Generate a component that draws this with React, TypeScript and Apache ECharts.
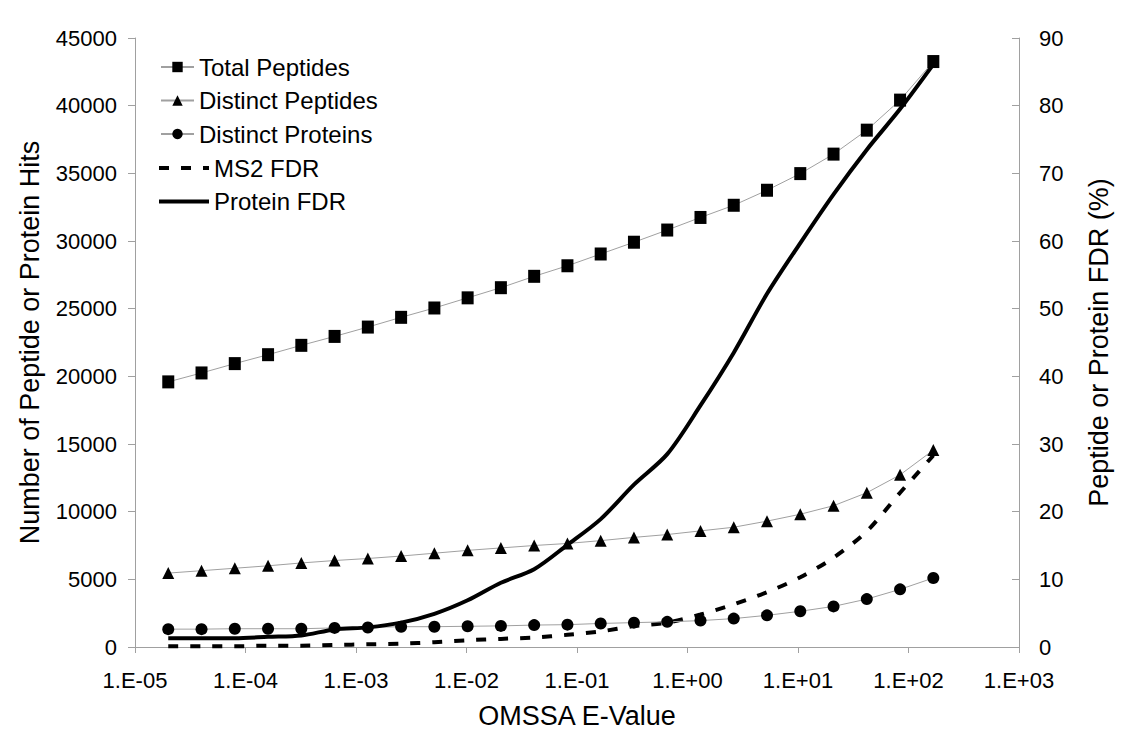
import React, { useEffect, useRef } from "react";
import * as echarts from "echarts";

const eValues = [
  2e-5, 4e-5, 8e-5, 1.6e-4, 3.2e-4, 6.4e-4, 1.28e-3, 2.56e-3, 5.12e-3, 1.024e-2,
  2.048e-2, 4.096e-2, 8.192e-2, 0.16384, 0.32768, 0.65536, 1.31072, 2.62144,
  5.24288, 10.48576, 20.97152, 41.94304, 83.88608, 167.77216,
];
const totalPeptides = [
  19590, 20250, 20940, 21600, 22290, 22950, 23640, 24360, 25050, 25800, 26550,
  27390, 28170, 29040, 29910, 30810, 31740, 32640, 33750, 34980, 36420, 38190,
  40410, 43260,
];
const distinctPeptides = [
  5460, 5640, 5820, 6000, 6210, 6390, 6540, 6720, 6930, 7140, 7320, 7500, 7650,
  7860, 8100, 8310, 8580, 8850, 9300, 9810, 10440, 11400, 12720, 14550,
];
const distinctProteins = [
  1320, 1320, 1350, 1350, 1350, 1410, 1440, 1500, 1500, 1530, 1560, 1620, 1650,
  1740, 1800, 1860, 1950, 2100, 2340, 2640, 3000, 3540, 4260, 5100,
];
const ms2FDR = [
  0.1, 0.1, 0.1, 0.2, 0.2, 0.3, 0.4, 0.5, 0.7, 1.0, 1.2, 1.4, 1.8, 2.3, 3.1,
  3.6, 4.8, 6.3, 8.1, 10.3, 13.2, 17.1, 22.8, 28.3,
];
const proteinFDR = [
  1.3, 1.3, 1.3, 1.5, 1.7, 2.6, 2.9, 3.6, 4.9, 6.9, 9.5, 11.5, 15.1, 18.9, 24.0,
  28.5, 35.7, 43.5, 52.2, 59.7, 66.9, 73.5, 79.5, 86.1,
];

const FONT = "Liberation Sans, Arial, sans-serif";
const AXIS_GRAY = "#a0a0a0";

const pair = (ys: number[]) => eValues.map((x, i) => [x, ys[i]]);

const fmtE = (v: number) => {
  const e = Math.round(Math.log10(v));
  return "1.E" + (e < 0 ? "-" : "+") + String(Math.abs(e)).padStart(2, "0");
};

export default function App() {
  const ref = useRef<HTMLDivElement>(null);
  useEffect(() => {
    if (!ref.current) return;
    const chart = echarts.init(ref.current, undefined, { renderer: "svg" });
    const markerSeries = (name: string, data: number[], symbol: string, size: any) => ({
      name,
      type: "line",
      yAxisIndex: 0,
      data: pair(data),
      symbol,
      symbolSize: size,
      showSymbol: true,
      lineStyle: { color: AXIS_GRAY, width: 1 },
      itemStyle: { color: "#000" },
      z: 3,
    });
    chart.setOption({
      animation: false,
      backgroundColor: "#fff",
      textStyle: { fontFamily: FONT },
      grid: { left: 120, right: 93, top: 30, bottom: 80 },
      legend: [
        {
          orient: "vertical",
          left: 147,
          top: 42,
          itemWidth: 33,
          itemHeight: 13,
          itemGap: 9.5,
          textStyle: { fontSize: 24, color: "#000", fontFamily: FONT },
          data: ["Total Peptides", "Distinct Peptides", "Distinct Proteins"],
        },
        {
          orient: "vertical",
          left: 144,
          top: 143,
          itemWidth: 50,
          itemHeight: 13,
          itemGap: 9.5,
          textStyle: { fontSize: 24, color: "#000", fontFamily: FONT },
          data: [
            { name: "MS2 FDR", itemStyle: { opacity: 0 }, lineStyle: { width: 4 } },
            { name: "Protein FDR", itemStyle: { opacity: 0 }, lineStyle: { width: 4 } },
          ],
        },
      ],
      xAxis: {
        type: "log",
        logBase: 10,
        min: 1e-5,
        max: 1e3,
        splitNumber: 8,
        name: "OMSSA E-Value",
        nameLocation: "middle",
        nameGap: 55,
        nameTextStyle: { fontSize: 27, color: "#000", fontFamily: FONT },
        axisLine: { lineStyle: { color: AXIS_GRAY, width: 1 } },
        axisTick: { show: true, length: 6, lineStyle: { color: AXIS_GRAY } },
        axisLabel: { fontSize: 22, color: "#000", margin: 22, formatter: fmtE, fontFamily: FONT },
        splitLine: { show: false },
        minorTick: { show: false },
      },
      yAxis: [
        {
          type: "value",
          min: 0,
          max: 45000,
          interval: 5000,
          position: "left",
          name: "Number of Peptide or Protein Hits",
          nameLocation: "middle",
          nameGap: 92,
          nameTextStyle: { fontSize: 27, color: "#000", fontFamily: FONT },
          axisLine: { show: true, lineStyle: { color: AXIS_GRAY, width: 1 } },
          axisTick: { show: true, length: 7, lineStyle: { color: AXIS_GRAY } },
          axisLabel: {
            fontSize: 22,
            color: "#000",
            margin: 18,
            fontFamily: FONT,
            formatter: (v: number) => String(v),
          },
          splitLine: { show: false },
        },
        {
          type: "value",
          min: 0,
          max: 90,
          interval: 10,
          position: "right",
          name: "Peptide or Protein FDR (%)",
          nameLocation: "middle",
          nameRotate: 90,
          nameGap: 66,
          nameTextStyle: { fontSize: 27, color: "#000", fontFamily: FONT },
          axisLine: { show: true, lineStyle: { color: AXIS_GRAY, width: 1 } },
          axisTick: { show: true, inside: true, length: 7, lineStyle: { color: AXIS_GRAY } },
          axisLabel: { fontSize: 22, color: "#000", margin: 20, fontFamily: FONT },
          splitLine: { show: false },
        },
      ],
      series: [
        markerSeries("Total Peptides", totalPeptides, "rect", [12, 13]),
        markerSeries("Distinct Peptides", distinctPeptides, "triangle", [12, 12]),
        markerSeries("Distinct Proteins", distinctProteins, "circle", [12, 12]),
        {
          name: "MS2 FDR",
          type: "line",
          yAxisIndex: 1,
          data: pair(ms2FDR),
          symbol: "none",
          smooth: 0.3,
          lineStyle: { color: "#000", width: 4, type: [10, 12] },
          itemStyle: { color: "#000" },
          z: 2,
        },
        {
          name: "Protein FDR",
          type: "line",
          yAxisIndex: 1,
          data: pair(proteinFDR),
          symbol: "none",
          smooth: 0.3,
          lineStyle: { color: "#000", width: 4 },
          itemStyle: { color: "#000" },
          z: 4,
        },
      ],
    });
    return () => chart.dispose();
  }, []);
  return <div ref={ref} style={{ width: 1112, height: 726 }} />;
}
